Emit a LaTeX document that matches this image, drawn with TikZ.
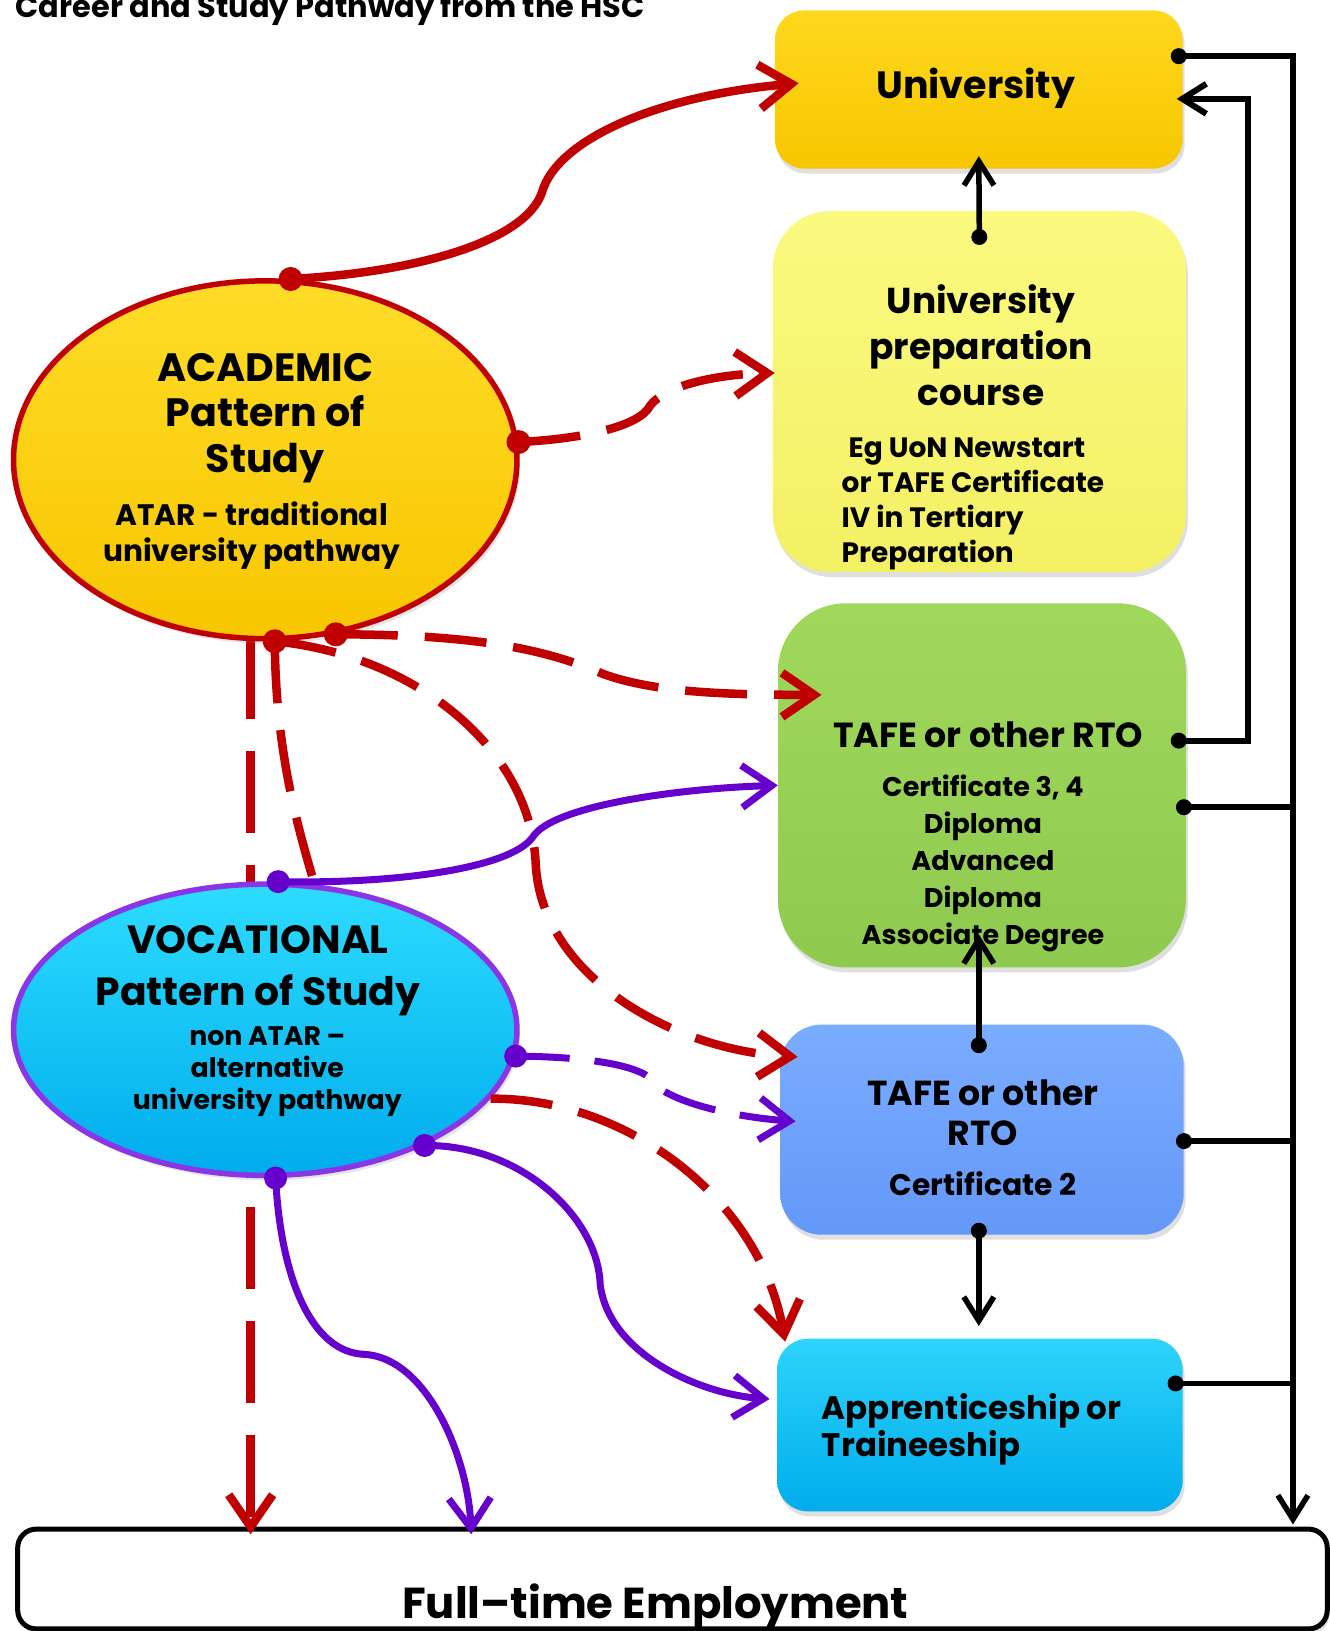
\documentclass[tikz,border=0pt]{standalone}
\usepackage{fontspec}
\setmainfont{Poppins}
\usetikzlibrary{arrows.meta,shapes.geometric,shadows,calc}
\definecolor{myred}{HTML}{C00000}
\definecolor{mypurple}{HTML}{6600CC}
\definecolor{vocborder}{HTML}{8A35E6}
\begin{document}
\begin{tikzpicture}[x=1.04pt,y=-1.04pt,
  shapebox/.style args={#1/#2/#3}{rectangle, rounded corners=#3*1.04pt,
     minimum width=#1*1.04pt, minimum height=#2*1.04pt, inner sep=0pt,
     drop shadow={shadow xshift=2pt, shadow yshift=-5pt, opacity=0.25}},
  ell/.style args={#1/#2}{ellipse, minimum width=#1*1.04pt, minimum height=#2*1.04pt, inner sep=0pt,
     drop shadow={shadow xshift=3pt, shadow yshift=-5pt, opacity=0.2}},
  redl/.style={draw=myred, line width=8.5pt},
  redd/.style={redl, dash pattern=on 62pt off 27pt},
  purl/.style={draw=mypurple, line width=7pt},
  purd/.style={purl, dash pattern=on 54pt off 25pt},
  blk/.style={draw=black, line width=5.5pt},
  tipR/.style={-{Straight Barb[length=32pt,width=44pt]}},
  tipP/.style={-{Straight Barb[length=30pt,width=42pt]}},
  tipK/.style={-{Straight Barb[length=24pt,width=30pt]}},
  txt/.style={inner sep=0pt, font=\bfseries, align=center},
]
\useasboundingbox (0,0) rectangle (1278,1568);

% ---------- boxes ----------
\node[shapebox=392/152/28, top color={rgb,255:red,255;green,216;blue,30}, bottom color={rgb,255:red,247;green,198;blue,0}] (uni) at (941,86) {};
\node[shapebox=397/347/55, top color={rgb,255:red,250;green,250;blue,128}, bottom color={rgb,255:red,244;green,240;blue,100}] (prep) at (941.5,376.5) {};
\node[shapebox=392/350/65, top color={rgb,255:red,160;green,216;blue,92}, bottom color={rgb,255:red,142;green,202;blue,78}] (green) at (944,755) {};
\node[shapebox=388/202/40, top color={rgb,255:red,122;green,172;blue,255}, bottom color={rgb,255:red,100;green,152;blue,248}] (blue) at (944,1086) {};
\node[shapebox=390/166/30, top color={rgb,255:red,45;green,212;blue,250}, bottom color={rgb,255:red,0;green,172;blue,236}] (appr) at (942,1370) {};
\node[shapebox=1259/96/18, draw=black, line width=5pt, fill=white] (emp) at (646.5,1518) {};

% ---------- line behind ellipses ----------
\coordinate (acadbot) at (241,612);
\draw[redd, dash pattern=on 82pt off 32pt, tipR] (acadbot) -- (241,1475) coordinate (redend);

% ---------- ellipses ----------
\node[ell=484/344, draw=myred, line width=5.5pt, top color={rgb,255:red,255;green,220;blue,40}, bottom color={rgb,255:red,247;green,198;blue,0}] (acad) at (255,442) {};
\node[ell=484/280, draw=vocborder, line width=5.5pt, top color={rgb,255:red,45;green,220;blue,255}, bottom color={rgb,255:red,0;green,172;blue,236}] (voc) at (255,990) {};

% ---------- connector anchors ----------
\coordinate (a1) at (acad.82);
\coordinate (a2) at (acad.4);
\coordinate (a3) at (acad.-68.6);
\coordinate (a4) at (acad.-87);
\coordinate (v1) at (voc.85);
\coordinate (v2) at (voc.-6);
\coordinate (v3) at (voc.-36);
\coordinate (v4) at (voc.-86);
\coordinate (v5) at (voc.-17.5);

% red: academic -> vocational (dashed, ends at vocational top)
\draw[redd] (a4) .. controls (265,720) and (285,790) .. (300,842);

% red solid to University
\draw[redl, tipR] (a1) .. controls (400,262) and (505,232) .. (521,185)
   .. controls (535,135) and (630,92) .. ($(uni.west)+(23,-6)$);
% red dashed to prep
\draw[redd, tipR] (a2) .. controls (560,422) and (615,410) .. (625,390)
   .. controls (640,370) and (690,360) .. ($(prep.west)+(2,-18)$);
% red dashed to green
\draw[redd, tipR] (a3) .. controls (450,610) and (520,622) .. (580,648)
   .. controls (630,666) and (700,668) .. ($(green.west)+(42,-87)$);
% red dashed to blue
\draw[redd, tipR] (a4) .. controls (400,630) and (510,720) .. (515,830)
   .. controls (520,940) and (650,1010) .. ($(blue.west)+(17,-70)$);
% red dashed vocational -> apprenticeship
\draw[redd, tipR] (v5) .. controls (600,1055) and (730,1150) .. ($(appr.north west)+(8,3)$);

% purple solid to green
\draw[purl, tipP] (v1) .. controls (380,850) and (490,835) .. (512,805)
   .. controls (530,775) and (650,758) .. (green.west);
% purple dashed to blue
\draw[purd, tipP] (v2) .. controls (570,1016) and (625,1025) .. (632,1045)
   .. controls (660,1065) and (720,1075) .. ($(blue.west)+(15,-8)$);
% purple to apprenticeship
\draw[purl, tipP] (v3) .. controls (500,1100) and (575,1170) .. (577,1235)
   .. controls (585,1300) and (670,1340) .. ($(appr.west)+(-7,-25)$);
% purple to employment
\draw[purl, tipP] (v4) .. controls (270,1230) and (300,1300) .. (350,1302)
   .. controls (410,1305) and (450,1400) .. (453,1475) coordinate (purend);

% dots
\foreach \p in {a1,a2,a3,a4} \fill[myred] (\p) circle (12pt);
\foreach \p in {v1,v2,v3,v4} \fill[mypurple] (\p) circle (11.5pt);

% ---------- black connectors ----------
\coordinate (busx) at (1243,0);
\coordinate (retx) at (1200,0);
\coordinate (pd) at ($(prep.north)+(0,25)$);
\coordinate (bd1) at ($(blue.north)+(-3,20)$);
\coordinate (bd2) at ($(blue.south)+(-3,-4)$);
\coordinate (bd3) at ($(blue.east)+(0,11)$);
\coordinate (ud) at ($(uni.east)+(-4,-32)$);
\coordinate (ut) at ($(uni.east)+(-6,9)$);
\coordinate (gd1) at ($(green.east)+(-7,-43)$);
\coordinate (gd2) at ($(green.east)+(-2,21)$);
\coordinate (ad) at ($(appr.east)+(-7,-40)$);

\draw[blk, tipK] (pd) -- ($(uni.south)+(0,-12)$);
\draw[blk, tipK] (bd1) -- ($(green.south)+(-3,-32)$);
\draw[blk, tipK] (bd2) -- ($(appr.north)+(-1,-12)$);
\draw[blk, tipK] (ud) -- (ud -| busx) -- ($(busx |- emp.north)+(0,-2)$);
\draw[blk, line width=6pt, tipK] (gd1) -- (gd1 -| retx) -- (retx |- ut) -- (ut);
\draw[blk] (gd2) -- (gd2 -| busx);
\draw[blk] (bd3) -- ($(bd3 -| busx)+(-3,0)$);
\draw[blk] (ad) -- (ad -| busx);
\foreach \p in {pd,bd1,bd2,bd3,ud,gd1,gd2,ad} \fill (\p) circle (8pt);

% ---------- texts ----------
\node[txt, anchor=base west, font=\bfseries\fontsize{30.4}{36}\selectfont] (title) at (15,17) {Career and Study Pathway from the HSC};
\node[txt, font=\bfseries\fontsize{38}{46}\selectfont] (unit) at (938,85) {University};
\node[txt, font=\bfseries\fontsize{36}{45.8}\selectfont] (prept) at (943,332) {University\\preparation\\course};
\node[txt, anchor=west, align=left, font=\bfseries\fontsize{28}{35}\selectfont] (preps) at (809,484) {\hspace*{7pt}Eg UoN Newstart\\or TAFE Certificate\\IV in Tertiary\\Preparation};
\node[txt, font=\bfseries\fontsize{34.8}{40}\selectfont] (greent) at (950,706) {TAFE or other RTO};
\node[txt, font=\bfseries\fontsize{27}{37}\selectfont] (greens) at (945,830) {Certificate 3, 4\\Diploma\\Advanced\\Diploma\\Associate Degree};
\node[txt, font=\bfseries\fontsize{34.7}{39.5}\selectfont] (bluet) at (945,1070) {TAFE or other\\RTO};
\node[txt, font=\bfseries\fontsize{29.8}{35}\selectfont] (blues) at (945,1138) {Certificate 2};
\node[txt, anchor=west, align=left, font=\bfseries\fontsize{32.5}{37.4}\selectfont] (apprt) at (790,1374) {Apprenticeship or\\Traineeship};
\node[txt, font=\bfseries\fontsize{39.5}{45.8}\selectfont] (acadt) at (255,402) {ACADEMIC\\Pattern of\\Study};
\node[txt, font=\bfseries\fontsize{29.6}{35.4}\selectfont] (acads) at (242,515) {ATAR - traditional\\university pathway};
\node[txt, font=\bfseries\fontsize{39.3}{52}\selectfont] (voct) at (248,933) {VOCATIONAL\\Pattern of Study};
\node[txt, font=\bfseries\fontsize{26.8}{32}\selectfont] (vocs) at (257,1030) {non ATAR –\\alternative\\university pathway};
\node[txt, font=\bfseries\fontsize{43.3}{52}\selectfont] (empt) at (630,1545) {Full–time Employment};
\end{tikzpicture}
\end{document}
